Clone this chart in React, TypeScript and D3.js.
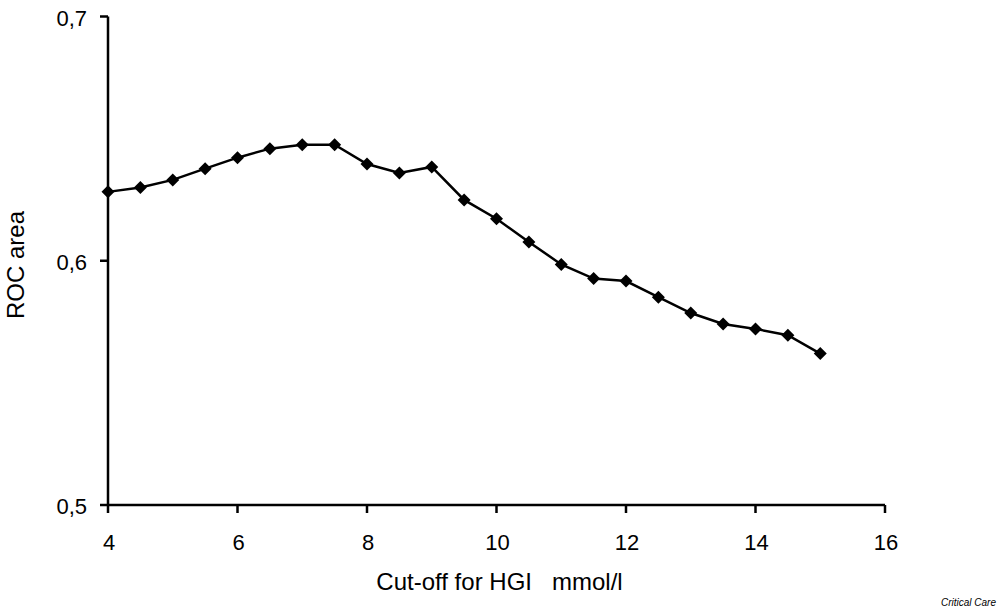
import React from "react";
import * as d3 from "d3";

const cutoffs = [4, 4.5, 5, 5.5, 6, 6.5, 7, 7.5, 8, 8.5, 9, 9.5, 10, 10.5, 11, 11.5, 12, 12.5, 13, 13.5, 14, 14.5, 15];
const rocArea = [0.6282, 0.6300, 0.6331, 0.6377, 0.6422, 0.6459, 0.6475, 0.6475, 0.6396, 0.6359, 0.6384, 0.6249, 0.6172, 0.6077, 0.5985, 0.5927, 0.5917, 0.5851, 0.5786, 0.5741, 0.5721, 0.5695, 0.5620];
const xTicks = [4, 6, 8, 10, 12, 14, 16];
const yTicks = [0.5, 0.6, 0.7];
const yTickLabels = ["0,5", "0,6", "0,7"];

export default function App() {
  const W = 1000, H = 610;
  const x = d3.scaleLinear().domain([4, 16]).range([108, 885]);
  const y = d3.scaleLinear().domain([0.5, 0.7]).range([505, 16.5]);
  const pts = cutoffs.map((c, i) => [x(c), y(rocArea[i])] as [number, number]);
  const line = d3.line()(pts) || "";
  const font = "'Liberation Sans', Arial, sans-serif";
  const r = 6.5;
  return (
    <svg width={W} height={H} style={{ position: "absolute", left: 0, top: 0, background: "#fff" }} fontFamily={font}>
      <rect width={W} height={H} fill="#fff" />
      <line x1={x(4)} x2={x(4)} y1={y(0.7)} y2={y(0.5)} stroke="#000" strokeWidth={2.5} />
      <line x1={x(4)} x2={x(16)} y1={y(0.5)} y2={y(0.5)} stroke="#000" strokeWidth={2.5} />
      {yTicks.map((t, i) => (
        <g key={"y" + t}>
          <line x1={x(4) - 8} x2={x(4)} y1={y(t)} y2={y(t)} stroke="#000" strokeWidth={2.5} />
          <text x={87} y={y(t) + 9} textAnchor="end" fontSize={22} fill="#000">{yTickLabels[i]}</text>
        </g>
      ))}
      {xTicks.map((t) => (
        <g key={"x" + t}>
          <line x1={x(t)} x2={x(t)} y1={y(0.5)} y2={y(0.5) + 8} stroke="#000" strokeWidth={2.5} />
          <text x={x(t) + 1} y={550} textAnchor="middle" fontSize={22} fill="#000">{t}</text>
        </g>
      ))}
      <text x={499.5} y={590} textAnchor="middle" fontSize={24} fill="#000" style={{ whiteSpace: "pre" }}>{"Cut-off for HGI   mmol/l"}</text>
      <text transform="translate(24,265) rotate(-90)" textAnchor="middle" fontSize={24} fill="#000">ROC area</text>
      <path d={line} fill="none" stroke="#000" strokeWidth={2.5} />
      {pts.map(([px, py], i) => (
        <path key={i} d={`M${px},${py - r}L${px + r},${py}L${px},${py + r}L${px - r},${py}Z`} fill="#000" />
      ))}
      <text x={996} y={606} textAnchor="end" fontSize={10} fontStyle="italic" fill="#000">Critical Care</text>
    </svg>
  );
}
